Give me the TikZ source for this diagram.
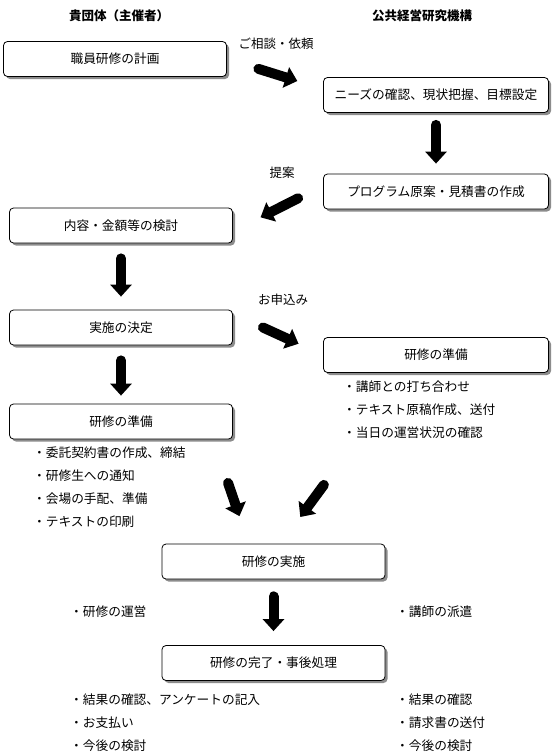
\documentclass[tikz,border=0pt]{standalone}
\usepackage{fontspec}
\setmainfont{Noto Sans CJK JP}
\usepackage{tikz}
\usetikzlibrary{arrows.meta,shadows}
\definecolor{ink}{HTML}{000000}
\definecolor{shade}{HTML}{8C8C8C}
\tikzset{
  stepcard/.style={draw=ink,fill=white,line width=0.8pt,rounded corners=4pt,
                   minimum width=223pt,minimum height=35pt,inner sep=0pt,
                   font=\fontsize{12.7}{15}\selectfont,
                   drop shadow={shadow xshift=2.5pt,shadow yshift=-2.5pt,
                                fill=shade,opacity=1}},
  widecard/.style={stepcard,minimum width=225pt},
  colhead/.style={font=\fontsize{12.5}{15}\selectfont\bfseries},
  flowlabel/.style={font=\fontsize{12.5}{15}\selectfont},
  itemlist/.style={anchor=north west,inner sep=0pt,align=left,
                   font=\fontsize{12.7}{23}\selectfont},
  flowarr/.style={-{Triangle[length=12pt,width=21pt]},line width=10pt,
                  line cap=round,draw=ink}
}
\begin{document}
\begin{tikzpicture}[x=1pt,y=-1pt]
    \path[use as bounding box,fill=white] (0,0) rectangle (555,752);
    \node[colhead] (headhost) at (119,16) {貴団体（主催者）};
    \node[colhead] (headinst) at (422,16) {公共経営研究機構};
    \node[stepcard] (plan) at (115,59) {職員研修の計画};
    \node[widecard] (needs) at (436,95) {ニーズの確認、現状把握、目標設定};
    \node[widecard] (draft) at (436,191.5) {プログラム原案・見積書の作成};
    \node[stepcard] (review) at (121,225.5) {内容・金額等の検討};
    \node[stepcard] (decide) at (121,327.5) {実施の決定};
    \node[widecard] (prepinst) at (436,355) {研修の準備};
    \node[stepcard] (prephost) at (121,421.5) {研修の準備};
    \node[stepcard] (run) at (273.5,561.5) {研修の実施};
    \node[stepcard] (finish) at (273.5,663) {研修の完了・事後処理};
    \node[flowlabel] (lblask) at (276,44) {ご相談・依頼};
    \node[flowlabel] (lblprop) at (282,173) {提案};
    \node[flowlabel] (lblapply) at (283,300) {お申込み};
    \node[itemlist] (listinst) at (343,381) {・講師との打ち合わせ\\
      ・テキスト原稿作成、送付\\
      ・当日の運営状況の確認};
    \node[itemlist] (listhost) at (33,447) {・委託契約書の作成、締結\\
      ・研修生への通知\\
      ・会場の手配、準備\\
      ・テキストの印刷};
    \node[itemlist] (runhost) at (70,606) {・研修の運営};
    \node[itemlist] (runinst) at (396,606) {・講師の派遣};
    \node[itemlist] (endhost) at (70,694) {・結果の確認、アンケートの記入\\
      ・お支払い\\
      ・今後の検討};
    \node[itemlist] (endinst) at (396,694) {・結果の確認\\
      ・請求書の送付\\
      ・今後の検討};
    \draw[flowarr,shorten <=33pt,shorten >=27pt] (plan.east) -- (needs.177);
    \draw[flowarr,shorten <=12pt,shorten >=10pt] (needs.south) -- (draft.north);
    \draw[flowarr,shorten <=28pt,shorten >=31pt] (draft.177) -- (review.-3);
    \draw[flowarr,shorten <=15pt,shorten >=13pt] (review.south) -- (decide.north);
    \draw[flowarr,shorten <=33pt,shorten >=27pt] (decide.7) -- (prepinst.west);
    \draw[flowarr,shorten <=15pt,shorten >=8pt] (decide.south) -- (prephost.north);
    \draw[flowarr,shorten <=46pt,shorten >=29pt] (prephost.-11) -- (run.144);
    \draw[flowarr,shorten <=139pt,shorten >=33pt] (prepinst.211) -- (run.68);
    \draw[flowarr,shorten <=17pt,shorten >=14pt] (run.south) -- (finish.north);
  \end{tikzpicture}
\end{document}
